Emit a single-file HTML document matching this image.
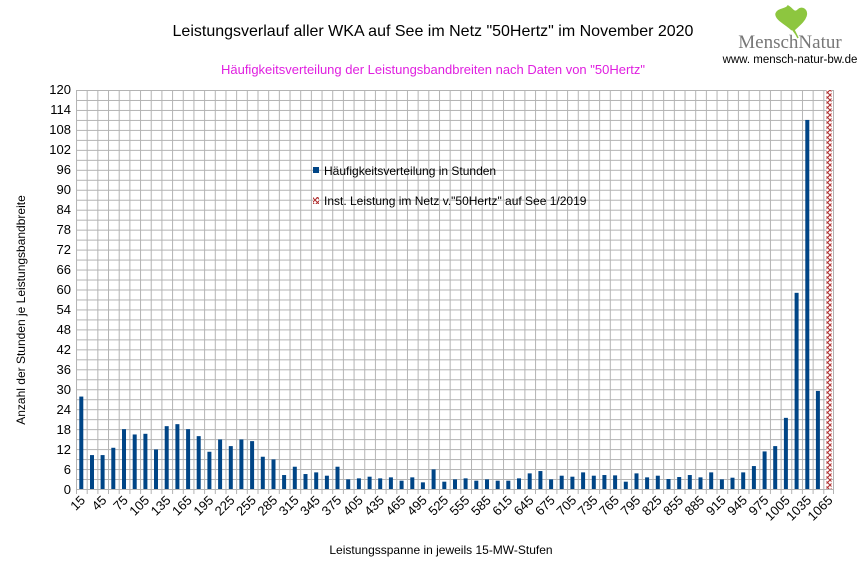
<!DOCTYPE html>
<html><head><meta charset="utf-8"><style>
body{margin:0;background:#fff}
svg{display:block;font-family:"Liberation Sans",sans-serif}
</style></head><body>
<svg width="866" height="578" viewBox="0 0 866 578" xmlns="http://www.w3.org/2000/svg">
<defs>
<pattern id="g" x="76" y="90" width="10.676" height="9.975" patternUnits="userSpaceOnUse">
<path d="M0.5 0V9.975M0 0.5H10.676" stroke="#b3b3b3" stroke-width="1" fill="none"/>
</pattern>
<pattern id="h" x="0" y="0" width="5" height="5" patternUnits="userSpaceOnUse">
<rect width="5" height="5" fill="#fff"/>
<path d="M0 0L5 5M5 0L0 5" stroke="#b03030" stroke-width="1.1"/>
</pattern>
</defs>
<rect width="866" height="578" fill="#fff"/>
<text x="433" y="36" text-anchor="middle" font-size="16" fill="#000">Leistungsverlauf aller WKA auf See im Netz "50Hertz" im November 2020</text>
<text x="433" y="74" text-anchor="middle" font-size="13" fill="#e020e0">Häufigkeitsverteilung der Leistungsbandbreiten nach Daten von "50Hertz"</text>
<!-- logo -->
<path d="M792 30 C786 24 776 20 776 14 C778 8 786 10 788 6 C792 8 794 14 798 10 C802 6 808 10 806 16 C804 22 798 26 794 30 L798 38" fill="#8dc63f" stroke="#8dc63f" stroke-width="1.5"/>
<text x="790" y="48" text-anchor="middle" font-family="Liberation Serif,serif" font-size="19" fill="#777">MenschNatur</text>
<text x="790" y="63" text-anchor="middle" font-size="11.5" fill="#000">www. mensch-natur-bw.de</text>
<!-- grid -->
<rect x="76" y="90" width="758" height="399" fill="url(#g)"/>
<path d="M833.5 90V489" stroke="#b3b3b3"/>
<g stroke="#b3b3b3">
<path d="M76 489.5H834"/>
</g>
<!-- ticks -->
<path d="M76.5 489V494M87.2 489V494M97.9 489V494M108.5 489V494M119.2 489V494M129.9 489V494M140.6 489V494M151.2 489V494M161.9 489V494M172.6 489V494M183.3 489V494M193.9 489V494M204.6 489V494M215.3 489V494M226 489V494M236.6 489V494M247.3 489V494M258 489V494M268.7 489V494M279.3 489V494M290 489V494M300.7 489V494M311.4 489V494M322 489V494M332.7 489V494M343.4 489V494M354.1 489V494M364.7 489V494M375.4 489V494M386.1 489V494M396.8 489V494M407.4 489V494M418.1 489V494M428.8 489V494M439.5 489V494M450.1 489V494M460.8 489V494M471.5 489V494M482.2 489V494M492.8 489V494M503.5 489V494M514.2 489V494M524.9 489V494M535.5 489V494M546.2 489V494M556.9 489V494M567.6 489V494M578.2 489V494M588.9 489V494M599.6 489V494M610.3 489V494M620.9 489V494M631.6 489V494M642.3 489V494M653 489V494M663.6 489V494M674.3 489V494M685 489V494M695.7 489V494M706.3 489V494M717 489V494M727.7 489V494M738.4 489V494M749 489V494M759.7 489V494M770.4 489V494M781.1 489V494M791.7 489V494M802.4 489V494M813.1 489V494M823.8 489V494M833.5 489V494" stroke="#b3b3b3"/>
<!-- bars -->
<g fill="#004586" transform="translate(0,489) scale(1,-3.325)">
<rect x="79.3" y="0" width="4" height="27.8"/>
<rect x="90" y="0" width="4" height="10.2"/>
<rect x="100.6" y="0" width="4" height="10.2"/>
<rect x="111.3" y="0" width="4" height="12.4"/>
<rect x="122" y="0" width="4" height="18.0"/>
<rect x="132.7" y="0" width="4" height="16.4"/>
<rect x="143.4" y="0" width="4" height="16.6"/>
<rect x="154" y="0" width="4" height="11.9"/>
<rect x="164.7" y="0" width="4" height="18.9"/>
<rect x="175.4" y="0" width="4" height="19.5"/>
<rect x="186.1" y="0" width="4" height="18.0"/>
<rect x="196.7" y="0" width="4" height="15.9"/>
<rect x="207.4" y="0" width="4" height="11.2"/>
<rect x="218.1" y="0" width="4" height="14.9"/>
<rect x="228.8" y="0" width="4" height="12.9"/>
<rect x="239.4" y="0" width="4" height="14.9"/>
<rect x="250.1" y="0" width="4" height="14.4"/>
<rect x="260.8" y="0" width="4" height="9.7"/>
<rect x="271.5" y="0" width="4" height="8.9"/>
<rect x="282.1" y="0" width="4" height="4.2"/>
<rect x="292.8" y="0" width="4" height="6.7"/>
<rect x="303.5" y="0" width="4" height="4.5"/>
<rect x="314.2" y="0" width="4" height="5.0"/>
<rect x="324.9" y="0" width="4" height="4.0"/>
<rect x="335.5" y="0" width="4" height="6.7"/>
<rect x="346.2" y="0" width="4" height="2.9"/>
<rect x="356.9" y="0" width="4" height="3.2"/>
<rect x="367.6" y="0" width="4" height="3.7"/>
<rect x="378.2" y="0" width="4" height="3.2"/>
<rect x="388.9" y="0" width="4" height="3.5"/>
<rect x="399.6" y="0" width="4" height="2.5"/>
<rect x="410.3" y="0" width="4" height="3.5"/>
<rect x="420.9" y="0" width="4" height="2.0"/>
<rect x="431.6" y="0" width="4" height="5.9"/>
<rect x="442.3" y="0" width="4" height="2.2"/>
<rect x="453" y="0" width="4" height="2.9"/>
<rect x="463.6" y="0" width="4" height="3.2"/>
<rect x="474.3" y="0" width="4" height="2.5"/>
<rect x="485" y="0" width="4" height="2.9"/>
<rect x="495.7" y="0" width="4" height="2.5"/>
<rect x="506.3" y="0" width="4" height="2.5"/>
<rect x="517" y="0" width="4" height="3.2"/>
<rect x="527.7" y="0" width="4" height="4.7"/>
<rect x="538.4" y="0" width="4" height="5.4"/>
<rect x="549.1" y="0" width="4" height="2.9"/>
<rect x="559.7" y="0" width="4" height="4.0"/>
<rect x="570.4" y="0" width="4" height="3.7"/>
<rect x="581.1" y="0" width="4" height="5.0"/>
<rect x="591.8" y="0" width="4" height="4.0"/>
<rect x="602.4" y="0" width="4" height="4.2"/>
<rect x="613.1" y="0" width="4" height="4.1"/>
<rect x="623.8" y="0" width="4" height="2.2"/>
<rect x="634.5" y="0" width="4" height="4.7"/>
<rect x="645.1" y="0" width="4" height="3.5"/>
<rect x="655.8" y="0" width="4" height="4.0"/>
<rect x="666.5" y="0" width="4" height="3.0"/>
<rect x="677.2" y="0" width="4" height="3.6"/>
<rect x="687.8" y="0" width="4" height="4.2"/>
<rect x="698.5" y="0" width="4" height="3.5"/>
<rect x="709.2" y="0" width="4" height="5.0"/>
<rect x="719.9" y="0" width="4" height="2.9"/>
<rect x="730.5" y="0" width="4" height="3.4"/>
<rect x="741.2" y="0" width="4" height="5.0"/>
<rect x="751.9" y="0" width="4" height="6.9"/>
<rect x="762.6" y="0" width="4" height="11.3"/>
<rect x="773.2" y="0" width="4" height="12.9"/>
<rect x="783.9" y="0" width="4" height="21.4"/>
<rect x="794.6" y="0" width="4" height="59"/>
<rect x="805.3" y="0" width="4" height="111"/>
<rect x="815.9" y="0" width="4" height="29.5"/>
</g>
<rect x="826.5" y="90" width="5" height="399" fill="url(#h)"/>
<!-- y labels -->
<g font-size="13" text-anchor="end" fill="#000">
<text x="71" y="494">0</text><text x="71" y="474">6</text><text x="71" y="454">12</text><text x="71" y="434">18</text><text x="71" y="414">24</text><text x="71" y="394">30</text><text x="71" y="374">36</text><text x="71" y="354">42</text><text x="71" y="334">48</text><text x="71" y="314">54</text><text x="71" y="294">60</text><text x="71" y="274">66</text><text x="71" y="254">72</text><text x="71" y="234">78</text><text x="71" y="214">84</text><text x="71" y="194">90</text><text x="71" y="174">96</text><text x="71" y="154">102</text><text x="71" y="134">108</text><text x="71" y="114">114</text><text x="71" y="94">120</text>
</g>
<!-- x labels -->
<g font-size="13" text-anchor="end" fill="#000">
<text transform="translate(86,501) rotate(-45)">15</text>
<text transform="translate(107.4,501) rotate(-45)">45</text>
<text transform="translate(128.8,501) rotate(-45)">75</text>
<text transform="translate(150.1,501) rotate(-45)">105</text>
<text transform="translate(171.5,501) rotate(-45)">135</text>
<text transform="translate(192.8,501) rotate(-45)">165</text>
<text transform="translate(214.2,501) rotate(-45)">195</text>
<text transform="translate(235.5,501) rotate(-45)">225</text>
<text transform="translate(256.9,501) rotate(-45)">255</text>
<text transform="translate(278.2,501) rotate(-45)">285</text>
<text transform="translate(299.6,501) rotate(-45)">315</text>
<text transform="translate(320.9,501) rotate(-45)">345</text>
<text transform="translate(342.3,501) rotate(-45)">375</text>
<text transform="translate(363.7,501) rotate(-45)">405</text>
<text transform="translate(385,501) rotate(-45)">435</text>
<text transform="translate(406.4,501) rotate(-45)">465</text>
<text transform="translate(427.7,501) rotate(-45)">495</text>
<text transform="translate(449.1,501) rotate(-45)">525</text>
<text transform="translate(470.4,501) rotate(-45)">555</text>
<text transform="translate(491.8,501) rotate(-45)">585</text>
<text transform="translate(513.1,501) rotate(-45)">615</text>
<text transform="translate(534.5,501) rotate(-45)">645</text>
<text transform="translate(555.8,501) rotate(-45)">675</text>
<text transform="translate(577.2,501) rotate(-45)">705</text>
<text transform="translate(598.5,501) rotate(-45)">735</text>
<text transform="translate(619.9,501) rotate(-45)">765</text>
<text transform="translate(641.3,501) rotate(-45)">795</text>
<text transform="translate(662.6,501) rotate(-45)">825</text>
<text transform="translate(684,501) rotate(-45)">855</text>
<text transform="translate(705.3,501) rotate(-45)">885</text>
<text transform="translate(726.7,501) rotate(-45)">915</text>
<text transform="translate(748,501) rotate(-45)">945</text>
<text transform="translate(769.4,501) rotate(-45)">975</text>
<text transform="translate(790.7,501) rotate(-45)">1005</text>
<text transform="translate(812.1,501) rotate(-45)">1035</text>
<text transform="translate(833.5,501) rotate(-45)">1065</text>
</g>
<!-- legend -->
<rect x="313" y="167" width="6" height="6" fill="#004586"/>
<text x="324" y="175" font-size="12" fill="#000">Häufigkeitsverteilung in Stunden</text>
<rect x="313" y="197" width="6" height="7" fill="url(#h)"/>
<text x="324" y="205" font-size="12" fill="#000">Inst. Leistung im Netz v."50Hertz" auf See 1/2019</text>
<!-- axis titles -->
<text transform="translate(25,310) rotate(-90)" text-anchor="middle" font-size="12" fill="#000">Anzahl der Stunden je Leistungsbandbreite</text>
<text x="441" y="554" text-anchor="middle" font-size="12" fill="#000">Leistungsspanne in jeweils 15-MW-Stufen</text>
</svg>
</body></html>
